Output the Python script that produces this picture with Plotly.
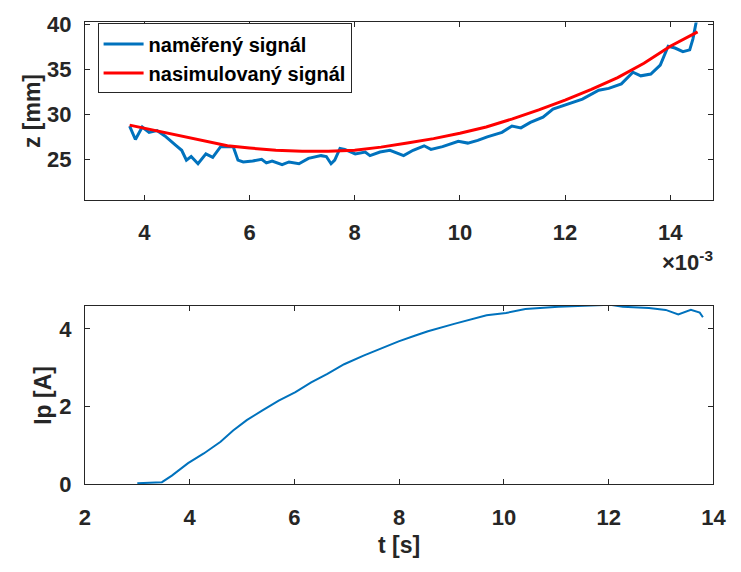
import plotly.graph_objects as go

# ---- data (top panel, t in units of 1e-3 s) ----
t_meas = [3.72, 3.83, 3.96, 4.09, 4.24, 4.39, 4.61, 4.71, 4.80, 4.89, 5.02, 5.17, 5.30, 5.45,
          5.69, 5.78, 5.88, 6.06, 6.23, 6.32, 6.43, 6.62, 6.75, 6.94, 7.12, 7.36, 7.46, 7.55,
          7.62, 7.72, 7.81, 8.01, 8.20, 8.29, 8.48, 8.67, 8.93, 9.11, 9.32, 9.45, 9.67, 9.85,
          9.97, 10.15, 10.34, 10.52, 10.80, 10.99, 11.16, 11.34, 11.58, 11.77, 11.96, 12.20,
          12.33, 12.64, 12.83, 13.07, 13.29, 13.44, 13.63, 13.81, 13.96, 14.09, 14.24, 14.37,
          14.43, 14.50, 14.53]
z_meas = [28.7, 27.2, 28.6, 28.0, 28.2, 27.6, 26.5, 26.0, 24.9, 25.3, 24.5, 25.6, 25.2, 26.4,
          26.4, 24.9, 24.7, 24.8, 25.0, 24.6, 24.8, 24.4, 24.7, 24.5, 25.1, 25.4, 25.3, 24.5,
          24.9, 26.2, 26.1, 25.6, 25.8, 25.4, 25.8, 26.0, 25.4, 26.0, 26.5, 26.1, 26.4, 26.8,
          27.0, 26.8, 27.1, 27.5, 28.0, 28.7, 28.5, 29.1, 29.7, 30.6, 31.0, 31.5,
          31.7, 32.7, 32.9, 33.4, 34.7, 34.3, 34.5, 35.5, 37.6, 37.4, 37.0, 37.2,
          38.4, 40.5, 41.5]

t_sim = [3.72, 4.2, 4.65, 5.1, 5.58, 6.0, 6.5, 7.0, 7.5, 8.0, 8.5, 9.0, 9.5, 10.0, 10.5,
         11.0, 11.5, 12.0, 12.5, 13.0, 13.5, 14.0, 14.52]
z_sim = [28.8, 28.2, 27.6, 27.05, 26.5, 26.25, 26.0, 25.9, 25.9, 26.0, 26.35, 26.8, 27.3,
         27.9, 28.6, 29.5, 30.5, 31.6, 32.8, 34.1, 35.7, 37.6, 39.2]

# ---- data (bottom panel) ----
t_ip = [3.00, 3.20, 3.47, 3.66, 3.97, 4.27, 4.59, 4.83, 5.09, 5.39, 5.70, 6.02, 6.32, 6.63,
        6.95, 7.32, 7.69, 7.99, 8.31, 8.55, 9.05, 9.67, 10.04, 10.41, 11.04, 11.66, 12.03,
        12.27, 12.77, 13.09, 13.33, 13.57, 13.74, 13.80]
ip = [0.02, 0.03, 0.05, 0.22, 0.54, 0.79, 1.09, 1.38, 1.65, 1.90, 2.15, 2.37, 2.62, 2.84,
      3.09, 3.31, 3.51, 3.68, 3.83, 3.94, 4.13, 4.35, 4.41, 4.51, 4.57, 4.59, 4.62,
      4.57, 4.54, 4.49, 4.37, 4.49, 4.42, 4.30]

top_xticks = [4, 6, 8, 10, 12, 14]
top_yticks = [25, 30, 35, 40]
bot_xticks = [2, 4, 6, 8, 10, 12, 14]
bot_yticks = [0, 2, 4]

SCALE = 1e-3
BLUE = "#0072BD"
RED = "#FF0000"
AX = "#262626"
FONT = "Liberation Sans"

fig = go.Figure()
fig.add_trace(go.Scatter(x=[v * SCALE for v in t_meas], y=z_meas, mode="lines",
                         line=dict(color=BLUE, width=3), name="naměřený signál",
                         xaxis="x", yaxis="y"))
fig.add_trace(go.Scatter(x=[v * SCALE for v in t_sim], y=z_sim, mode="lines",
                         line=dict(color=RED, width=3), name="nasimulovaný signál",
                         xaxis="x", yaxis="y"))
fig.add_trace(go.Scatter(x=t_ip, y=ip, mode="lines", line=dict(color=BLUE, width=2),
                         showlegend=False, xaxis="x2", yaxis="y2"))

W, H = 741, 572
xdom = [81 / W, 726 / W]
axcommon = dict(showline=True, linecolor=AX, linewidth=1, mirror="ticks", ticks="inside",
                ticklen=5, tickcolor=AX, showgrid=False, zeroline=False,
                tickfont=dict(family=FONT, size=22, color=AX, weight="bold"))

fig.update_layout(
    width=W, height=H, margin=dict(l=0, r=0, t=0, b=0),
    paper_bgcolor="white", plot_bgcolor="white",
    font=dict(family=FONT, color=AX),
    xaxis=dict(domain=xdom, anchor="y", range=[2.87 * SCALE, 14.82 * SCALE],
               tickvals=[v * SCALE for v in top_xticks], ticktext=[str(v) for v in top_xticks],
               ticklabelstandoff=13, **axcommon),
    yaxis=dict(domain=[1 - 198 / H, 1 - 13 / H], anchor="x", range=[20.45, 40.25],
               tickvals=top_yticks, ticklabelstandoff=8, **axcommon),
    xaxis2=dict(domain=xdom, anchor="y2", range=[2, 14], tickvals=bot_xticks,
                ticklabelstandoff=13, **axcommon),
    yaxis2=dict(domain=[1 - 494 / H, 1 - 308 / H], anchor="x2", range=[0, 4.6],
                tickvals=bot_yticks, ticklabelstandoff=8, **axcommon),
    legend=dict(x=94 / W, y=1 - 14 / H, xanchor="left", yanchor="top",
                bgcolor="white", bordercolor=AX, borderwidth=1,
                font=dict(family=FONT, size=20, color="black", weight="bold"),
                tracegroupgap=0, itemwidth=40),
    showlegend=True,
)

fig.add_annotation(text="z [mm]", xref="paper", yref="paper", x=26 / W, y=1 - 105 / H,
                   xanchor="center", yanchor="middle", textangle=-90, showarrow=False,
                   font=dict(family=FONT, size=23, color=AX, weight="bold"))
fig.add_annotation(text="Ip [A]", xref="paper", yref="paper", x=38 / W, y=1 - 402 / H,
                   xanchor="center", yanchor="middle", textangle=-90, showarrow=False,
                   font=dict(family=FONT, size=23, color=AX, weight="bold"))
fig.add_annotation(text="t [s]", xref="paper", yref="paper", x=403 / W, y=1 - 557 / H,
                   xanchor="center", yanchor="middle", showarrow=False,
                   font=dict(family=FONT, size=23, color=AX, weight="bold"))
fig.add_annotation(text="×10<sup>-3</sup>", xref="paper", yref="paper", x=728 / W,
                   y=1 - 262 / H, xanchor="right", yanchor="middle", showarrow=False,
                   font=dict(family=FONT, size=22, color=AX, weight="bold"))

fig.write_html("out.html")
